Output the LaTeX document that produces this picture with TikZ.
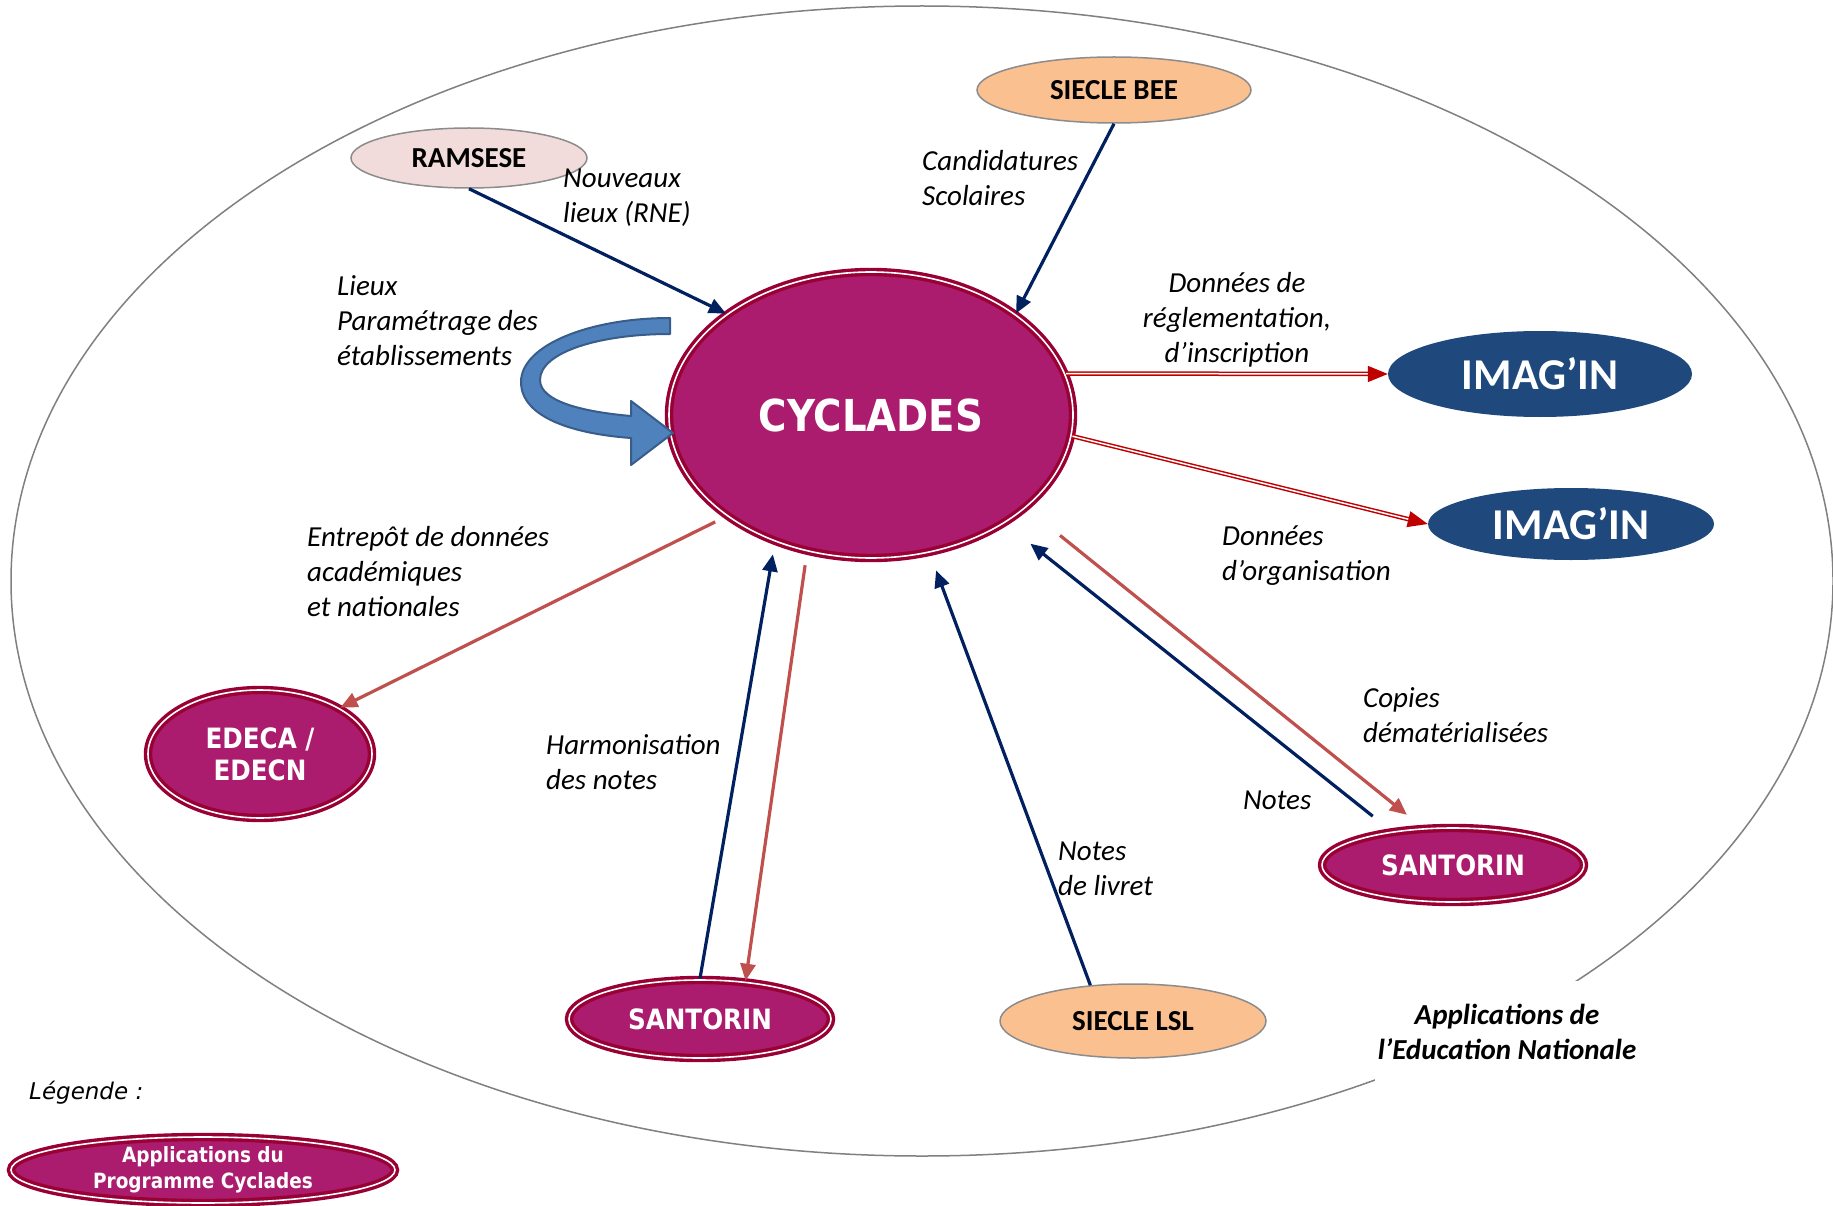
\documentclass[tikz,border=0pt]{standalone}
\usepackage{fontspec}
\usetikzlibrary{arrows.meta,shapes.geometric}
\newfontfamily\calfont{Carlito}
\newfontfamily\tahfont[FakeStretch=0.88]{DejaVu Sans}
\newfontfamily\dvfont{DejaVu Sans}
\definecolor{navyc}{HTML}{002060}
\definecolor{coralc}{HTML}{C0504D}
\definecolor{redc}{HTML}{C00000}
\definecolor{magc}{HTML}{AC1C6E}
\definecolor{magb}{HTML}{990033}
\definecolor{bluec}{HTML}{1F497D}
\definecolor{pinkc}{HTML}{F2DCDB}
\definecolor{orangec}{HTML}{FAC090}
\definecolor{grayb}{HTML}{8C8C8C}
\definecolor{bluefill}{HTML}{4F81BD}
\definecolor{bluedark}{HTML}{385D8A}
\begin{document}
\begin{tikzpicture}[x=1pt,y=-1pt,
  lbl/.style={font=\calfont\itshape\fontsize{29}{35}\selectfont, align=left, anchor=north west, inner sep=0pt},
  magnode/.style={ellipse, fill=magc, draw=magb, line width=3.4pt, double=white, double distance=1.6pt, inner sep=0pt, text=white, font=\tahfont\bfseries\fontsize{28}{32}\selectfont, align=center},
  plainnode/.style={ellipse, draw=grayb, line width=1.5pt, inner sep=0pt, font=\calfont\bfseries\fontsize{29}{35}\selectfont},
  blunode/.style={ellipse, fill=bluec, inner sep=0pt, text=white, font=\calfont\bfseries\fontsize{44}{50}\selectfont},
  navyarr/.style={draw=navyc, line width=3.2pt, -{Triangle[length=17pt,width=15pt]}},
  coralarr/.style={draw=coralc, line width=3.2pt, -{Triangle[length=17pt,width=15pt]}},
  redarr/.style={draw=redc, line width=1.5pt, double=white, double distance=1.5pt, -{Triangle[length=20pt,width=16pt]}}
]
\useasboundingbox[fill=white] (0,0) rectangle (1833,1206);
% outer ellipse
\draw[draw=gray, line width=1.5pt] (922,581) ellipse [x radius=911pt, y radius=575pt];

% nodes
\node[magnode, minimum width=404pt, minimum height=286pt, font=\tahfont\bfseries\fontsize{44}{50}\selectfont] (cyc) at (871,415) {CYCLADES};
\node[plainnode, fill=pinkc, minimum width=236pt, minimum height=60pt] (ram) at (469,158) {RAMSESE};
\node[plainnode, fill=orangec, minimum width=274pt, minimum height=66pt] (bee) at (1114,90) {SIECLE BEE};
\node[plainnode, fill=orangec, minimum width=266pt, minimum height=74pt] (lsl) at (1133,1021) {SIECLE LSL};
\node[blunode, minimum width=304pt, minimum height=86pt] (img1) at (1540,374) {IMAG’IN};
\node[blunode, minimum width=286pt, minimum height=72pt] (img2) at (1571,524) {IMAG’IN};
\node[magnode, minimum width=224pt, minimum height=128pt] (edeca) at (260,754) {EDECA /\\EDECN};
\node[magnode, minimum width=262pt, minimum height=74pt] (san1) at (1453,865) {SANTORIN};
\node[magnode, minimum width=262pt, minimum height=78pt] (san2) at (700,1019) {SANTORIN};
\node[magnode, minimum width=384pt, minimum height=66pt, font=\tahfont\bfseries\fontsize{21}{26}\selectfont] (leg) at (203,1170) {Applications du\\Programme Cyclades};

% blue curved arrow
\draw[draw=bluedark, line width=2pt, fill=bluefill, line join=round]
  (670,318) .. controls (590,318) and (521,345) .. (521,382)
  .. controls (521,418) and (575,434) .. (631,438)
  -- (631,465) -- (673,433) -- (631,401) -- (631,416)
  .. controls (585,412) and (540,402) .. (540,380)
  .. controls (540,352) and (600,334) .. (670,334) -- cycle;

% connectors
\draw[navyarr] (ram.south) -- (cyc.145);
\draw[navyarr] (bee.south) -- (cyc.35);
\draw[redarr] (cyc.12) -- (img1.west);
\draw[redarr] (cyc.-6) -- (img2.west);
\draw[coralarr, shorten <=12pt] (cyc.215) -- (edeca.30);
\draw[navyarr, shorten >=12pt] (san2.north) -- (cyc.233);
\draw[coralarr, shorten <=13pt] (cyc.245) -- (san2.40);
\draw[navyarr, shorten >=18pt] (lsl.140) -- (cyc.293);
\draw[navyarr, shorten >=32pt] ([yshift=18pt]san1.159) -- (cyc.321);
\draw[coralarr, shorten <=43pt, shorten >=20pt] (cyc.-31) -- (san1.129);

% labels
\node[lbl] (t1) at (563,163) {\strut Nouveaux\\\strut lieux (RNE)};
\node[lbl] (t2) at (922,146) {\strut Candidatures\\\strut Scolaires};
\node[lbl] (t3) at (337,271) {\strut Lieux\\\strut Paramétrage des\\\strut établissements};
\node[lbl, align=center, anchor=north] (t4) at (1237,268) {\strut Données de\\\strut réglementation,\\\strut d’inscription};
\node[lbl] (t5) at (1222,521) {\strut Données\\\strut d’organisation};
\node[lbl] (t6) at (307,522) {\strut Entrepôt de données\\\strut académiques\\\strut et nationales};
\node[lbl] (t7) at (546,730) {\strut Harmonisation\\\strut des notes};
\node[lbl] (t8) at (1363,683) {\strut Copies\\\strut dématérialisées};
\node[lbl] (t9) at (1243,785) {\strut Notes};
\node[lbl] (t10) at (1058,836) {\strut Notes\\\strut de livret};
\node[fill=white, minimum width=265pt, minimum height=102pt, align=center, inner sep=0pt, font=\calfont\bfseries\itshape\fontsize{29}{35}\selectfont] (appen) at (1507,1032) {Applications de\\l’Education Nationale};
\node[anchor=west, inner sep=0pt, font=\dvfont\itshape\fontsize{23}{28}\selectfont] (legt) at (29,1093) {Légende :};
\end{tikzpicture}
\end{document}
